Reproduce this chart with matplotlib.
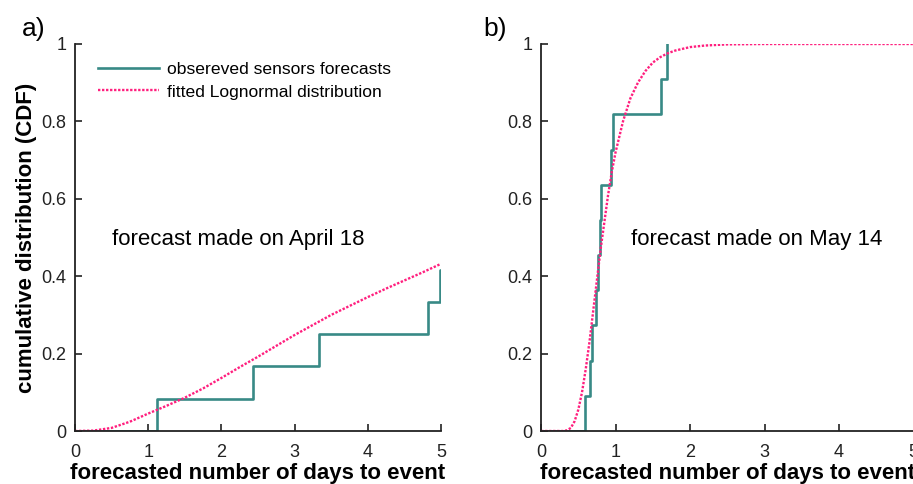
import numpy as np
import matplotlib.pyplot as plt

plt.rcParams['font.family'] = ['Liberation Sans', 'DejaVu Sans']

# a) forecast made on April 18 -- observed step positions (days) and CDF levels
obs_a_x = [0.0, 1.12, 2.43, 3.33, 4.82, 4.99, 5.0]
obs_a_y = [0.0, 0.0833, 0.1667, 0.25, 0.3333, 0.4167, 0.4167]

# fitted lognormal
fit_a_x = [0.0, 0.25, 0.5, 0.75, 1.0, 1.25, 1.5, 1.75, 2.0, 2.25, 2.5, 2.75,
           3.0, 3.25, 3.5, 3.75, 4.0, 4.25, 4.5, 4.75, 5.0]
fit_a_y = [0.0, 0.001, 0.008, 0.024, 0.045, 0.065, 0.086, 0.11, 0.137, 0.165,
           0.192, 0.22, 0.248, 0.274, 0.30, 0.323, 0.346, 0.368, 0.389, 0.41, 0.432]

# b) forecast made on May 14
obs_b_x = [0.0, 0.595, 0.653, 0.69, 0.74, 0.76, 0.79, 0.81, 0.94, 0.965, 1.61, 1.685]
obs_b_y = [0.0, 0.0909, 0.1818, 0.2727, 0.3636, 0.4545, 0.5455, 0.6364, 0.7273,
           0.8182, 0.9091, 1.0]

fit_b_x = [0.0, 0.3, 0.35, 0.4, 0.45, 0.5, 0.55, 0.6, 0.65, 0.7, 0.75, 0.8, 0.85,
           0.9, 0.95, 1.0, 1.1, 1.2, 1.3, 1.4, 1.5, 1.6, 1.7, 1.8, 2.0, 2.2, 2.5, 3.0, 4.0, 5.0]
fit_b_y = [0.0, 0.0, 0.002, 0.008, 0.025, 0.055, 0.1, 0.16, 0.23, 0.31, 0.39, 0.47,
           0.54, 0.61, 0.67, 0.72, 0.8, 0.86, 0.9, 0.93, 0.952, 0.966, 0.976, 0.983,
           0.992, 0.996, 0.999, 1.0, 1.0, 1.0]

teal = '#388a86'
pink = '#ff1f7e'

fig = plt.figure(figsize=(9.13, 4.84), dpi=100)
ax_a = fig.add_axes([0.0821, 0.1095, 0.4009, 0.7996])
ax_b = fig.add_axes([0.5926, 0.1095, 0.408, 0.7996])


def style(ax):
    ax.set_xlim(0, 5)
    ax.set_ylim(0, 1)
    ax.set_xticks([0, 1, 2, 3, 4, 5])
    ax.set_yticks([0, 0.2, 0.4, 0.6, 0.8, 1])
    ax.set_yticklabels(['0', '0.2', '0.4', '0.6', '0.8', '1'])
    for s in ['top', 'right']:
        ax.spines[s].set_visible(False)
    for s in ['left', 'bottom']:
        ax.spines[s].set_linewidth(1.3)
        ax.spines[s].set_color('#222222')
    ax.tick_params(direction='in', length=5, width=1.2, labelsize=13,
                   colors='#222222')
    ax.tick_params(axis='x', pad=9)
    ax.tick_params(axis='y', pad=6)
    ax.set_xlabel('forecasted number of days to event', fontsize=16,
                  fontweight='bold', labelpad=2)


# panel a
ax_a.step(obs_a_x, obs_a_y, where='post', color=teal, lw=1.9,
          label='obsereved sensors forecasts')
ax_a.plot(fit_a_x, fit_a_y, color=pink, lw=1.7, ls=(0, (1, 0.7)),
          label='fitted Lognormal distribution')
style(ax_a)
ax_a.set_ylabel('cumulative distribution (CDF)', fontsize=16,
                fontweight='bold', labelpad=3)
ax_a.text(0.505, 0.495, 'forecast made on April 18', fontsize=16, va='center')
ax_a.legend(loc='upper left', bbox_to_anchor=(0.02, 0.995), frameon=False,
            fontsize=12.6, handlelength=3.5, handletextpad=0.45, labelspacing=0.42)
fig.text(0.024, 0.925, 'a)', fontsize=19)

# panel b
ax_b.step(obs_b_x, obs_b_y, where='post', color=teal, lw=1.9)
ax_b.plot(fit_b_x, fit_b_y, color=pink, lw=1.7, ls=(0, (1, 0.7)))
style(ax_b)
ax_b.text(1.21, 0.495, 'forecast made on May 14', fontsize=16, va='center')
fig.text(0.529, 0.925, 'b)', fontsize=19)

fig.savefig('out.png', dpi=100)
